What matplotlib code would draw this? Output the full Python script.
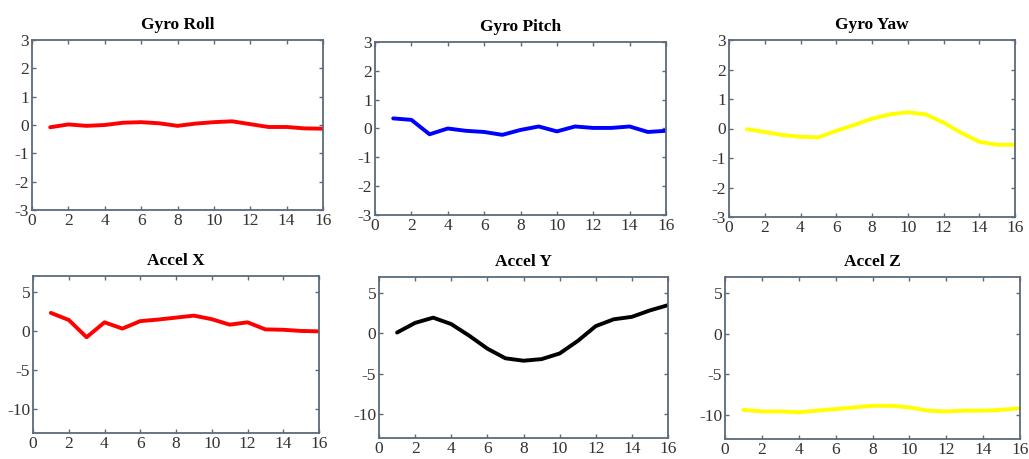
import matplotlib
matplotlib.use("Agg")
import matplotlib.pyplot as plt

plt.rcParams['font.family'] = ['Liberation Serif', 'DejaVu Serif']
plt.rcParams['axes.unicode_minus'] = False

x = list(range(1, 17))

gyro_roll = [-0.08, 0.02, -0.03, 0.0, 0.08, 0.1, 0.06, -0.03, 0.05, 0.1, 0.13, 0.03, -0.07, -0.07, -0.12, -0.13]
gyro_pitch = [0.35, 0.3, -0.2, 0.0, -0.08, -0.12, -0.22, -0.05, 0.07, -0.1, 0.07, 0.02, 0.02, 0.07, -0.12, -0.08]
gyro_yaw = [-0.02, -0.12, -0.22, -0.28, -0.3, -0.08, 0.12, 0.33, 0.48, 0.55, 0.48, 0.2, -0.15, -0.45, -0.55, -0.55]
accel_x = [2.3, 1.4, -0.8, 1.1, 0.3, 1.25, 1.45, 1.7, 1.95, 1.5, 0.8, 1.1, 0.2, 0.15, 0.0, -0.05]
accel_y = [0.1, 1.3, 1.95, 1.15, -0.3, -1.9, -3.1, -3.4, -3.2, -2.5, -0.95, 0.9, 1.75, 2.05, 2.85, 3.5]
accel_z = [-9.4, -9.6, -9.6, -9.7, -9.5, -9.3, -9.1, -8.9, -8.9, -9.1, -9.5, -9.6, -9.5, -9.5, -9.4, -9.2]

titles = ["Gyro Roll", "Gyro Pitch", "Gyro Yaw", "Accel X", "Accel Y", "Accel Z"]
series = [gyro_roll, gyro_pitch, gyro_yaw, accel_x, accel_y, accel_z]
colors = ["#ff0000", "#0000ff", "#ffff00", "#ff0000", "#000000", "#ffff00"]

gyro_ticks = [-3, -2, -1, 0, 1, 2, 3]
accel_ticks = [-10, -5, 0, 5]
x_ticks = [0, 2, 4, 6, 8, 10, 12, 14, 16]

W, H = 1029, 459
# pixel boxes (left, top, right, bottom)
boxes = [
    (32, 40, 323, 210),
    (375, 42, 666, 215),
    (729, 40, 1015, 217),
    (33, 276, 319, 433),
    (379, 277, 668, 438),
    (725, 277, 1020, 439),
]

fig = plt.figure(figsize=(W / 100, H / 100), dpi=100)
spine_col = "#5b6b7b"

for i, (l, t, r, b) in enumerate(boxes):
    ax = fig.add_axes([l / W, 1 - b / H, (r - l) / W, (b - t) / H])
    ax.plot(x, series[i], color=colors[i], linewidth=2.8, solid_capstyle='round')
    ax.set_xlim(0, 16)
    if i < 3:
        ax.set_ylim(-3, 3)
        ax.set_yticks(gyro_ticks)
    else:
        ax.set_ylim(-13, 7)
        ax.set_yticks(accel_ticks)
    ax.set_xticks(x_ticks)
    ax.tick_params(direction='in', top=True, right=True, length=3, width=1,
                   color=spine_col, labelsize=12.5, labelcolor="#333333", pad=2)
    for s in ax.spines.values():
        s.set_color(spine_col)
        s.set_linewidth(1.3)
    ax.set_title(titles[i], fontsize=12.5, fontweight='bold', pad=8)

fig.savefig("out.png", dpi=100)
